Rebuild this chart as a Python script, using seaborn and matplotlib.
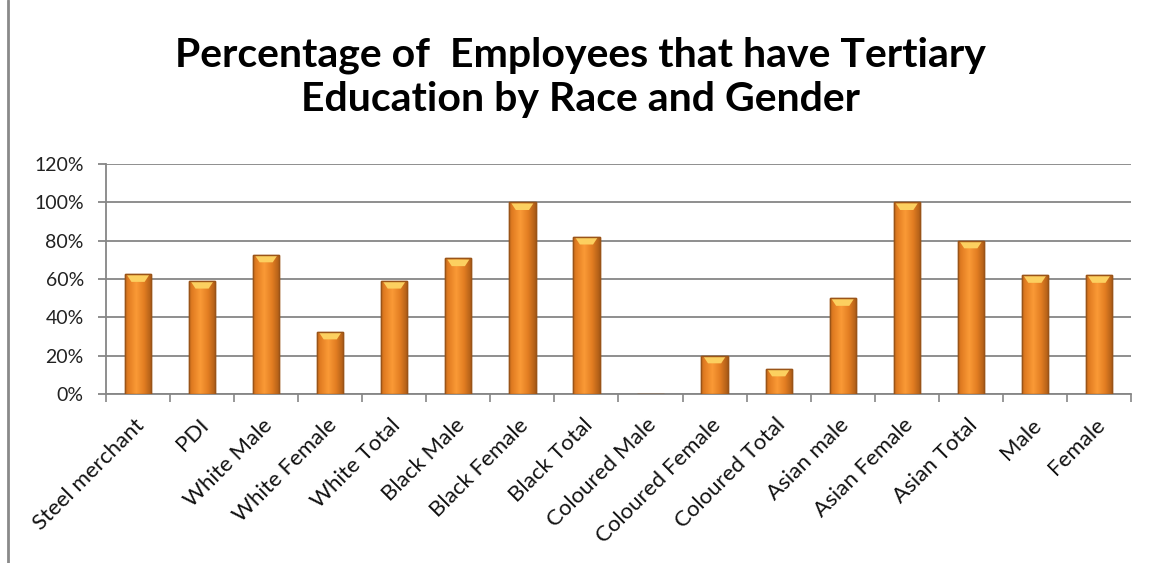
import numpy as np
import pandas as pd
import matplotlib
matplotlib.use("Agg")
import matplotlib.pyplot as plt
import seaborn as sns
from matplotlib.ticker import FixedLocator, PercentFormatter
from matplotlib.transforms import ScaledTranslation

categories = ["Steel merchant", "PDI", "White Male", "White Female", "White Total",
              "Black Male", "Black Female", "Black Total", "Coloured Male",
              "Coloured Female", "Coloured Total", "Asian male", "Asian Female",
              "Asian Total", "Male", "Female"]
values = [62.5, 59, 72.7, 32.5, 59, 70.7, 100, 82, 0, 20, 13.2, 50, 100, 80, 62, 62]
y_ticks = [0, 20, 40, 60, 80, 100, 120]
title = "Percentage of  Employees that have Tertiary\nEducation by Race and Gender"

sns.set_theme(style="white")
plt.rcParams['font.family'] = ['Lato', 'DejaVu Sans']

df = pd.DataFrame({"cat": categories, "val": values})

fig = plt.figure(figsize=(11.51, 5.63), dpi=100)
ax = fig.add_axes([0.0921, 0.3002, 0.8905, 0.4085])

sns.barplot(data=df, x="cat", y="val", color="#F28A2A", width=0.41,
            edgecolor="#9A5418", linewidth=1.0, ax=ax, zorder=3)

# gradient shading inside each bar (lighter centre, darker sides)
grad = np.linspace(0, 1, 64)
shade = 1 - np.abs(grad - 0.42) * 1.7
cmap = matplotlib.colors.LinearSegmentedColormap.from_list(
    "bar", ["#A95A16", "#E27D22", "#FA9A36"])
for p in list(ax.patches):
    h = p.get_height()
    if h <= 0:
        continue
    x0, w = p.get_x(), p.get_width()
    im = ax.imshow(shade[np.newaxis, :], extent=[x0, x0 + w, 0, h],
                   aspect="auto", cmap=cmap, vmin=0, vmax=1, zorder=3.5)
    im.set_clip_path(p)
    # top highlight cap (trapezoid)
    cap = max(h - 4.0, 0)
    ax.fill([x0 + w * 0.08, x0 + w * 0.92, x0 + w * 0.75, x0 + w * 0.25],
            [h - 0.5, h - 0.5, cap, cap], color="#FCD060", zorder=4,
            linewidth=0)
    ax.add_patch(plt.Rectangle((x0, 0), w, h, fill=False,
                               edgecolor="#9A5418", linewidth=1.0, zorder=5))

ax.set_xlim(-0.5, len(categories) - 0.5)
ax.set_ylim(0, 120)
ax.yaxis.set_major_locator(FixedLocator(y_ticks))
ax.yaxis.set_major_formatter(PercentFormatter(decimals=0))
ax.grid(axis="y", color="#868686", linewidth=1.3, zorder=0)
ax.set_axisbelow(True)

for s in ["top", "right"]:
    ax.spines[s].set_visible(False)
for s in ["left", "bottom"]:
    ax.spines[s].set_color("#868686")
    ax.spines[s].set_linewidth(1.3)

ax.set_xlabel("")
ax.set_ylabel("")
ax.tick_params(axis="y", left=True, length=6, width=1.3, color="#868686",
               labelsize=14, labelcolor="#222222", pad=10)
ax.set_xticks(range(len(categories)))
ax.set_xticklabels(categories, rotation=45, ha="right", va="top",
                   rotation_mode="anchor", fontsize=16, color="#111111")
ax.tick_params(axis="x", bottom=False, pad=9)
shift = ScaledTranslation(-4 / 100, 0, fig.dpi_scale_trans)
for lbl in ax.get_xticklabels():
    lbl.set_transform(lbl.get_transform() + shift)
ax.set_xticks(np.arange(-0.5, len(categories), 1), minor=True)
ax.tick_params(axis="x", which="minor", bottom=True, length=6, width=1.2,
               color="#868686")

fig.text(0.504, 0.935, title, ha="center", va="top", fontsize=29.5,
         fontweight="bold", color="#000000", linespacing=1.22)

# chart border line on the left
fig.add_artist(plt.Line2D([0.007, 0.007], [0, 1], color="#8a8a8a", linewidth=2,
                          transform=fig.transFigure))

fig.savefig("out.png", dpi=100, facecolor="white")
